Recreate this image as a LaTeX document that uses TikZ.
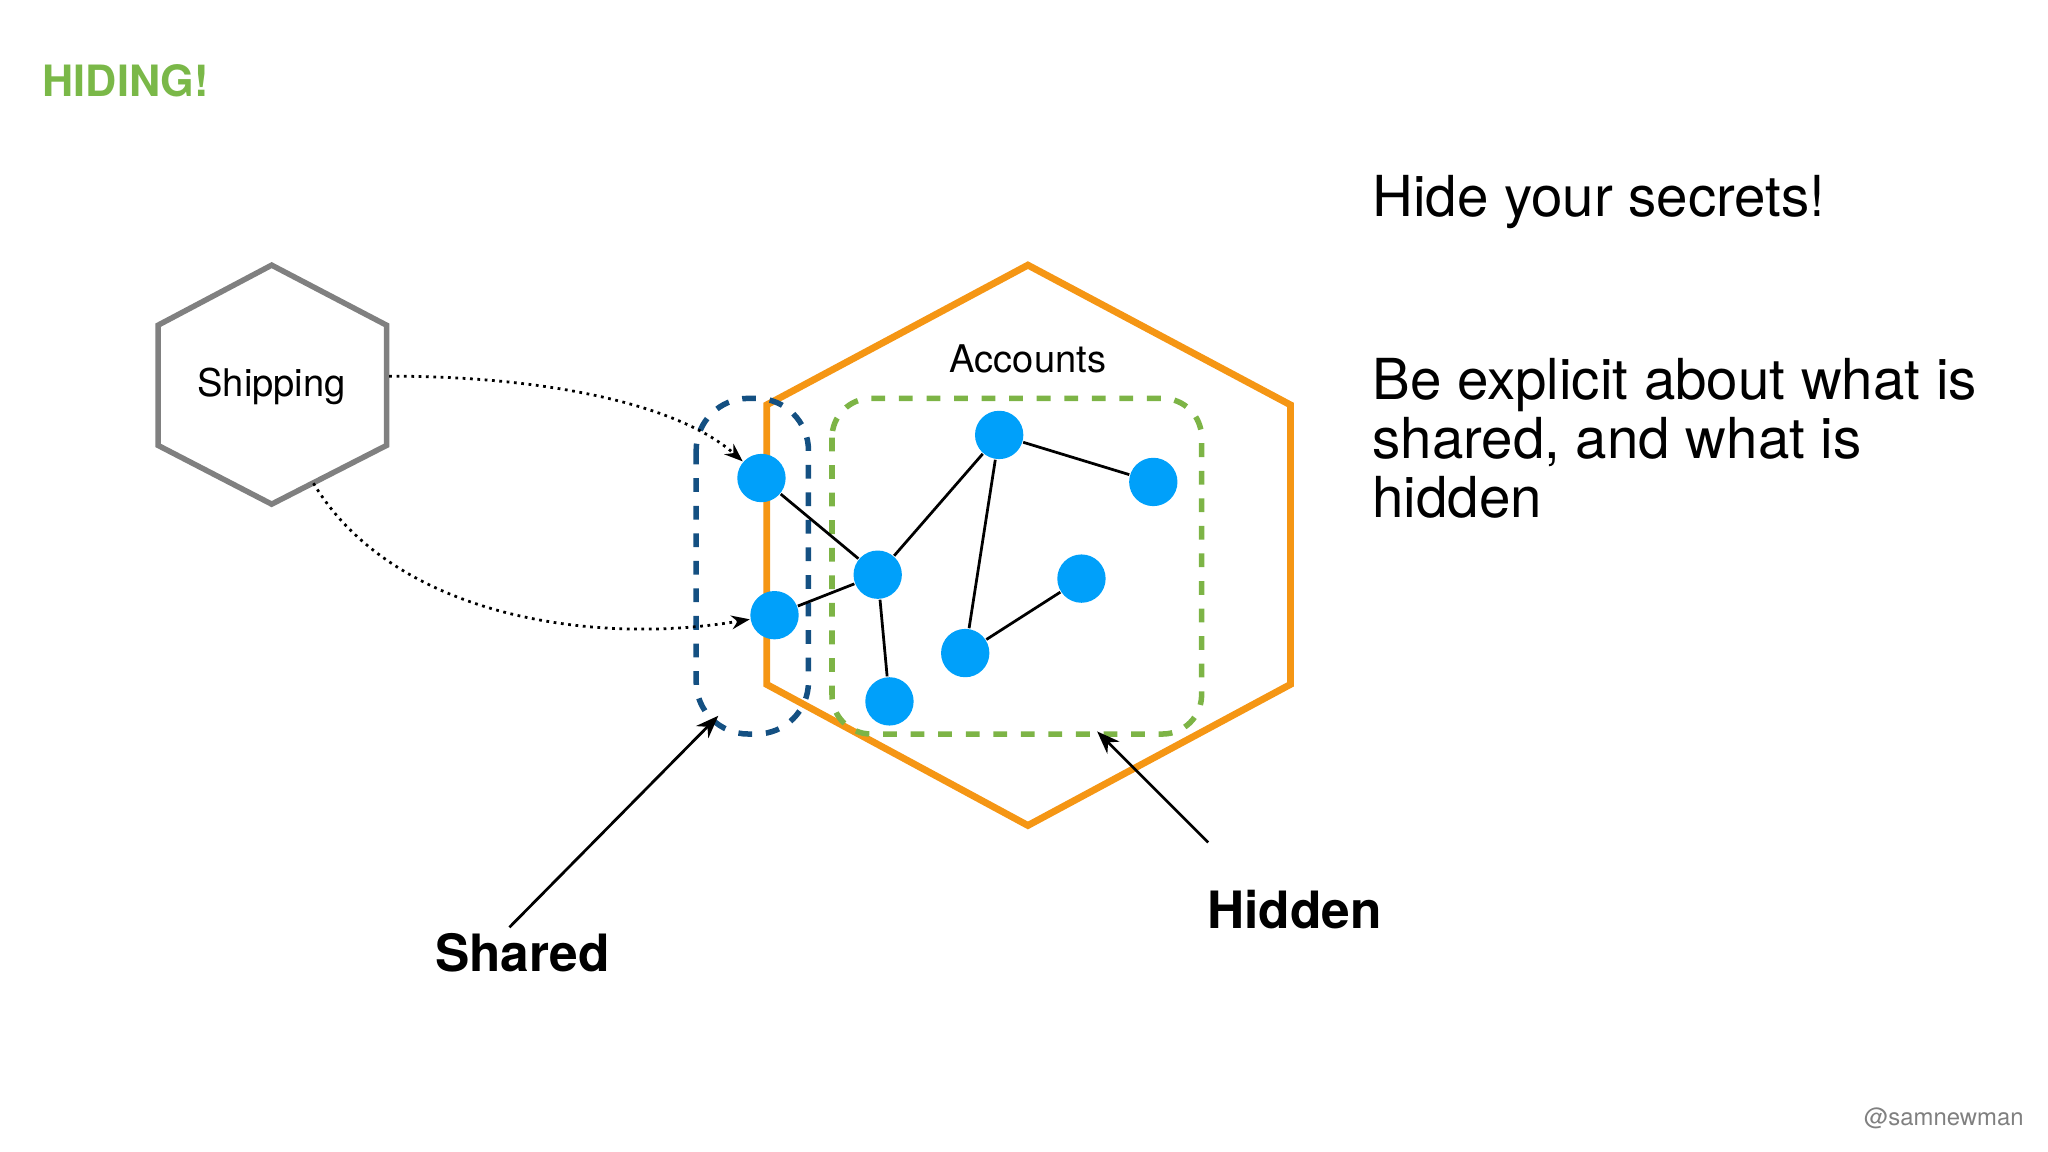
\documentclass[tikz,border=0pt]{standalone}
\usepackage{fontspec}
\setmainfont{TeX Gyre Heros}
\usetikzlibrary{arrows.meta}
\definecolor{hgreen}{RGB}{122,184,72}
\definecolor{horange}{RGB}{245,150,20}
\definecolor{hblue}{RGB}{0,160,250}
\definecolor{dblue}{RGB}{20,80,130}
\definecolor{dgreen}{RGB}{125,180,70}
\tikzset{
  dot/.style={circle,fill=hblue,minimum size=0.37cm,inner sep=0},
  edge/.style={black,line width=0.6pt},
  dotarrow/.style={densely dotted,line width=0.6pt,-{Stealth[length=4pt]}},
  ptr/.style={line width=0.6pt,-{Stealth[length=5pt]}},
  big/.style={font=\fontsize{11.2}{13}\selectfont\bfseries},
  side/.style={font=\fontsize{12.3}{12.8}\selectfont, anchor=base west, align=left, inner sep=0}
}
\begin{document}
\begin{tikzpicture}[x=0.01cm,y=-0.01cm]
\useasboundingbox (0,0) rectangle (1568,882);
\node[anchor=base west,inner sep=0,text=hgreen,font=\fontsize{9.4}{11}\selectfont\bfseries] (title) at (32,74) {HIDING!};
% shipping
\draw[gray,line width=1.2pt] (208,203)--(296,249)--(296,341)--(208,386)--(121,341)--(121,249)--cycle;
\node[font=\fontsize{8.3}{10}\selectfont] (ship) at (208,296) {Shipping};
% accounts
\draw[horange,line width=1.5pt] (787,203)--(988,310)--(988,524)--(787,632)--(587,524)--(587,310)--cycle;
\node[font=\fontsize{8.3}{10}\selectfont] (acc) at (787,275) {Accounts};
\draw[dgreen,dashed,line width=1.2pt,rounded corners=0.3cm] (637,305) rectangle (920,562);
\draw[dblue,dashed,line width=1.2pt,rounded corners=0.4cm] (533,305) rectangle (619,562);
% dots
\node[dot] (a) at (583,366) {};
\node[dot] (b) at (593,471) {};
\node[dot] (c) at (672,440) {};
\node[dot] (d) at (765,333) {};
\node[dot] (e) at (883,369) {};
\node[dot] (f) at (828,443) {};
\node[dot] (g) at (739,500) {};
\node[dot] (h) at (681,537) {};
\draw[edge] (a)--(c) (b)--(c) (c)--(d) (c)--(h) (d)--(g) (d)--(e) (g)--(f);
\coordinate (s1) at (298,288);
\coordinate (s2) at (240,370);
\draw[dotarrow] (s1) .. controls (420,288) and (520,310) .. (a);
\draw[dotarrow] (s2) .. controls (300,470) and (450,495) .. (b);
% labels
\node[big,anchor=base] (shared) at (400,744) {Shared};
\node[big,anchor=base] (hidden) at (991,711) {Hidden};
\coordinate (p1) at (390,710);
\coordinate (p1e) at (550,548);
\coordinate (p2) at (925,645);
\coordinate (p2e) at (840,560);
\draw[ptr] (p1)--(p1e);
\draw[ptr] (p2)--(p2e);
\node[side] (t1) at (1050,166) {Hide your secrets!};
\node[side] (t2) at (1050,396) {Be explicit about what is\\shared, and what is\\hidden};
\node[anchor=base east,inner sep=0,text=gray,font=\fontsize{5.2}{6}\selectfont] (sig) at (1550,862) {@samnewman};
\end{tikzpicture}
\end{document}
